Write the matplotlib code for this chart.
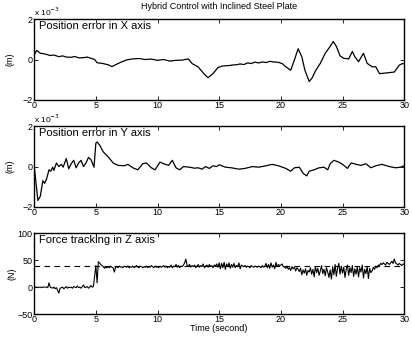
import matplotlib
matplotlib.use("Agg")
import matplotlib.pyplot as plt
import numpy as np

# position error in X (units of 1e-3 m)
x_t = [0, 0.2, 0.5, 0.8, 1.0, 1.3, 1.6, 2.0, 2.3, 2.6,
       3.0, 3.3, 3.6, 4.0, 4.3, 4.6, 4.9, 5.1, 5.5, 6.0,
       6.3, 6.6, 7.0, 7.5, 8.0, 8.5, 9.0, 9.5, 10.0, 10.5,
       11.0, 11.5, 12.0, 12.5, 12.8, 13.3, 13.8, 14.1, 14.5, 14.9,
       15.2, 15.5, 15.8, 16.1, 16.4, 16.7, 17.0, 17.3, 17.6, 17.9,
       18.2, 18.5, 18.8, 19.1, 19.4, 19.8, 20.1, 20.4, 20.8, 21.1,
       21.4, 21.7, 21.95, 22.3, 22.55, 22.8, 23.2, 23.6, 24.0, 24.25,
       24.5, 24.8, 25.1, 25.5, 25.8, 26.0, 26.3, 26.7, 27.0, 27.4,
       27.7, 28.0, 28.5, 29.2, 29.6, 29.9, 30.0]
x_err = [0.22, 0.45, 0.31, 0.28, 0.25, 0.20, 0.22, 0.14, 0.18, 0.12,
         0.11, 0.15, 0.08, 0.09, 0.12, 0.06, 0.00, -0.16, -0.19, -0.26,
         -0.35, -0.26, -0.14, -0.02, 0.03, 0.05, 0.00, 0.02, -0.04, 0.00,
         -0.08, -0.04, -0.03, 0.03, -0.20, -0.37, -0.73, -0.90, -0.70, -0.40,
         -0.33, -0.31, -0.30, -0.27, -0.26, -0.22, -0.25, -0.17, -0.20, -0.13,
         -0.17, -0.12, -0.15, -0.09, -0.12, -0.14, -0.20, -0.36, -0.53, -0.02,
         0.53, 0.14, -0.53, -1.09, -0.90, -0.57, -0.19, 0.31, 0.65, 0.89,
         0.65, 0.18, 0.06, 0.03, 0.40, 0.14, -0.11, 0.31, -0.19, -0.36,
         -0.36, -0.70, -0.67, -0.62, -0.28, -0.19, -0.23]

# position error in Y (units of 1e-3 m)
y_t = [0, 0.1, 0.3, 0.5, 0.7, 0.85, 1.0, 1.2, 1.35, 1.5,
       1.6, 1.8, 2.0, 2.2, 2.35, 2.6, 2.8, 3.0, 3.2, 3.4,
       3.6, 3.8, 4.0, 4.2, 4.4, 4.6, 4.85, 5.0, 5.1, 5.3,
       5.6, 6.0, 6.4, 6.8, 7.3, 7.6, 8.0, 8.4, 8.8, 9.1,
       9.5, 9.8, 10.2, 10.5, 10.9, 11.2, 11.5, 11.8, 12.1, 12.6,
       13.0, 13.3, 13.6, 13.9, 14.2, 14.5, 14.8, 15.0, 15.5, 16.0,
       16.6, 17.1, 17.7, 18.2, 18.8, 19.3, 19.8, 20.4, 20.8, 21.1,
       21.5, 21.8, 22.1, 22.3, 22.7, 23.1, 23.5, 23.8, 24.0, 24.3,
       24.7, 25.0, 25.4, 25.7, 26.1, 26.5, 26.9, 27.3, 27.7, 28.2,
       28.8, 29.3, 29.7, 30.0]
y_err = [0.00, -0.54, -1.68, -1.46, -0.70, -0.83, -0.62, -0.16, -0.23, -0.03,
         -0.19, 0.18, 0.00, 0.11, -0.03, 0.40, -0.11, 0.14, 0.31, -0.06,
         0.18, 0.31, 0.00, 0.18, 0.45, 0.35, -0.03, 1.16, 1.22, 1.07,
         0.73, 0.48, 0.18, 0.06, 0.04, 0.11, -0.06, -0.16, 0.14, 0.18,
         -0.06, -0.16, 0.22, 0.14, 0.06, 0.31, -0.06, -0.16, 0.00, -0.03,
         -0.08, -0.06, -0.13, 0.00, -0.09, 0.04, 0.00, 0.09, -0.03, -0.06,
         -0.13, -0.09, 0.00, -0.03, 0.04, 0.11, 0.04, -0.09, -0.23, -0.06,
         -0.03, -0.33, -0.46, -0.23, -0.16, -0.06, -0.03, -0.16, 0.14, 0.31,
         0.22, 0.11, -0.09, 0.18, 0.11, 0.06, 0.14, -0.06, 0.04, 0.11,
         0.00, -0.06, -0.03, 0.04]

# force in Z (N), sampled every 0.1 s
force_dt = 0.1
force = [0, 0, 0, -1, 0, 0, -1, 0, 0, 0,
         0, -1, 8, 0, -1, -2, 0, -3, -1, -6,
         -11, -2, -1, 0, -3, -1, 1, -2, 0, -1,
         0, -2, 1, 0, -1, 2, -1, 0, -2, 1,
         4, -1, 0, 1, -2, 0, 3, 0, 1, 20,
         40, 8, 47, 45, 42, 40, 38, 35, 37, 36,
         38, 36, 39, 37, 36, 28, 37, 38, 36, 39,
         37, 38, 36, 39, 38, 37, 39, 36, 38, 37,
         39, 36, 38, 40, 37, 36, 39, 38, 36, 38,
         37, 39, 36, 38, 37, 40, 38, 36, 39, 37,
         38, 36, 39, 37, 38, 40, 37, 39, 36, 38,
         37, 41, 36, 39, 38, 42, 37, 40, 36, 39,
         38, 41, 45, 52, 40, 39, 42, 37, 40, 38,
         41, 36, 39, 42, 37, 40, 38, 43, 36, 39,
         41, 37, 42, 38, 40, 36, 41, 39, 43, 37,
         45, 34, 44, 36, 46, 33, 43, 38, 45, 35,
         42, 37, 44, 36, 40, 38, 45, 34, 41, 39,
         38, 40, 37, 39, 38, 36, 40, 38, 37, 39,
         38, 37, 39, 38, 36, 40, 37, 39, 44, 36,
         42, 35, 45, 37, 41, 34, 46, 38, 42, 40,
         41, 43, 38, 37, 35, 39, 33, 36, 31, 38,
         34, 37, 30, 36, 33, 29, 35, 23, 32, 26,
         34, 22, 31, 28, 36, 24, 33, 19, 38, 27,
         35, 22, 30, 40, 25, 33, 21, 36, 28, 18,
         32, 15, 38, 23, 42, 20, 35, 44, 24, 39,
         26, 37, 18, 33, 41, 22, 36, 27, 40, 20,
         34, 24, 38, 19, 36, 28, 41, 17, 33, 25,
         38, 16, 35, 27, 30, 37, 33, 39, 36, 41,
         40, 44, 42, 45, 43, 41, 46, 44, 42, 45,
         48, 44, 52, 45, 43, 41, 44, 42, 40, 43,
         42]
force_ref = 40

plt.rcParams["font.family"] = ["Liberation Sans", "DejaVu Sans"]
plt.rcParams["font.size"] = 6.5

fig = plt.figure(figsize=(4.12, 3.41), dpi=100)
left, width = 0.083, 0.898
ax1 = fig.add_axes([left, 0.707, width, 0.237])
ax2 = fig.add_axes([left, 0.393, width, 0.237])
ax3 = fig.add_axes([left, 0.079, width, 0.237])

force_t = np.arange(len(force)) * force_dt
ax1.plot(x_t, x_err, color="black", lw=0.9)
ax2.plot(y_t, y_err, color="black", lw=0.9)
ax3.plot(force_t, force, color="black", lw=0.8)
ax3.axhline(force_ref, color="black", lw=0.8, ls=(0, (5, 4)))

for ax in (ax1, ax2, ax3):
    ax.set_xlim(0, 30)
    ax.set_xticks(range(0, 31, 5))
    ax.tick_params(direction="in", top=True, right=True, length=3,
                   width=0.6, labelsize=6.5, pad=1)
    for s in ax.spines.values():
        s.set_linewidth(1.0)

for ax, name in ((ax1, "Position error in X axis"), (ax2, "Position error in Y axis")):
    ax.set_ylim(-2, 2)
    ax.set_yticks([-2, 0, 2])
    ax.set_ylabel("(m)", fontsize=6.5, labelpad=6)
    ax.text(0.012, 0.98, name, transform=ax.transAxes, va="top", ha="left", fontsize=8)
    ax.text(0.0, 1.015, r"x 10$^{-3}$", transform=ax.transAxes, va="bottom", ha="left", fontsize=6)

ax3.set_ylim(-50, 100)
ax3.set_yticks([-50, 0, 50, 100])
ax3.set_ylabel("(N)", fontsize=6.5, labelpad=1)
ax3.text(0.012, 0.98, "Force tracking in Z axis", transform=ax3.transAxes,
         va="top", ha="left", fontsize=8)
ax3.set_xlabel("Time (second)", fontsize=6.5, labelpad=0)

fig.text(left + width / 2, 0.995, "Hybrid Control with Inclined Steel Plate",
         ha="center", va="top", fontsize=6.5)

fig.savefig("out.png", dpi=100)
